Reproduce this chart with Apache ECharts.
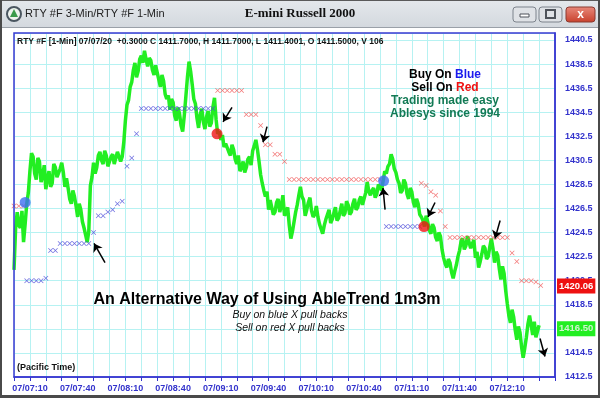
<!DOCTYPE html>
<html>
<head>
<meta charset="utf-8">
<script src="https://cdn.jsdelivr.net/npm/echarts@6/dist/echarts.min.js"></script>
<style>
html,body{margin:0;padding:0;background:#fff}
#main{width:600px;height:398px}
</style>
</head>
<body>
<div id="main"></div>
<script>
// right axis ticks run 1412.5, 1414.5 ... so prices are drawn as offsets from this base
var BASE = 1412.5;

// 1-min close; time is minutes from 07:10
var priceStart = -10;
var priceStep = 1;
var prices = [
  1421.4, 1424.8, 1426.2, 1425.1, 1424.9, 1426.3, 1423.7, 1425.2, 1426.9, 1427.8,
  1429.6, 1431.1, 1430.8, 1429.4, 1428.9, 1430.7, 1430.4, 1428.7, 1429.2, 1430.1,
  1428.1, 1429.0, 1429.6, 1428.3, 1428.6, 1430.2, 1429.9, 1429.1, 1429.0, 1429.8,
  1430.3, 1429.5, 1428.3, 1429.0, 1428.2, 1427.3, 1426.9, 1428.0, 1427.5, 1426.7,
  1425.8, 1426.9, 1426.4, 1425.4, 1424.9, 1424.3, 1423.7, 1424.6, 1428.4, 1429.1,
  1430.3, 1429.4, 1429.9, 1430.9, 1431.2, 1430.5, 1430.2, 1431.3, 1430.9, 1430.0,
  1429.9, 1430.8, 1431.0, 1430.2, 1430.1, 1431.2, 1431.3, 1430.4, 1430.8, 1432.0,
  1433.8, 1435.1, 1435.5, 1436.6, 1437.0, 1438.0, 1438.6, 1437.4, 1437.9, 1438.9,
  1439.2, 1438.6, 1439.6, 1438.9, 1438.3, 1439.0, 1438.8, 1438.0, 1437.6, 1438.4,
  1438.5, 1437.2, 1436.6, 1437.6, 1437.1, 1436.0, 1435.6, 1435.9, 1434.7, 1435.6,
  1435.3, 1434.2, 1433.8, 1434.9, 1434.4, 1433.4, 1432.9, 1434.2, 1435.8, 1437.4,
  1438.7, 1437.9, 1436.8, 1435.6, 1435.2, 1434.0, 1433.2, 1434.3, 1434.8, 1433.7,
  1433.1, 1434.1, 1434.6, 1433.3, 1433.6, 1434.9, 1435.7, 1433.9, 1432.7, 1432.9,
  1432.2, 1432.6, 1431.6, 1431.9, 1432.0, 1431.2, 1430.9, 1431.8, 1431.4, 1430.6,
  1430.2, 1430.9, 1429.6, 1429.9, 1430.4, 1429.5, 1429.9, 1430.6, 1430.8, 1430.1,
  1431.3, 1431.7, 1432.2, 1431.4, 1430.4, 1429.3, 1428.6, 1428.0, 1427.5, 1427.9,
  1426.4, 1427.2, 1427.1, 1426.0, 1426.2, 1427.0, 1427.3, 1426.2, 1426.7, 1427.6,
  1425.9, 1426.2, 1426.6, 1425.1, 1424.0, 1424.6, 1425.4, 1426.2, 1426.8, 1427.6,
  1428.3, 1427.5, 1427.2, 1425.9, 1426.4, 1427.0, 1427.4, 1426.3, 1425.8, 1426.0,
  1426.7, 1425.8, 1425.2, 1424.8, 1424.4, 1425.1, 1425.6, 1426.0, 1426.4, 1425.3,
  1425.6, 1426.1, 1426.6, 1425.5, 1425.7, 1426.3, 1426.9, 1425.9, 1426.1, 1427.1,
  1426.8, 1426.0, 1426.2, 1426.9, 1427.3, 1426.4, 1426.6, 1427.2, 1427.5, 1426.8,
  1426.9, 1427.8, 1428.7, 1427.9, 1427.6, 1428.0, 1428.2, 1427.4, 1427.7, 1428.5,
  1428.3, 1428.0, 1428.8, 1429.6, 1429.4, 1430.0, 1430.2, 1431.0, 1430.6, 1429.8,
  1429.5, 1428.9, 1428.6, 1427.8, 1428.0, 1428.9, 1428.6, 1427.7, 1427.3, 1428.2,
  1427.9, 1427.0, 1426.6, 1427.3, 1426.9, 1426.0, 1425.8, 1425.5, 1425.0, 1425.9,
  1425.4, 1424.7, 1424.4, 1425.2, 1424.9, 1424.1, 1423.8, 1424.5, 1424.2, 1423.1,
  1422.4, 1421.9, 1421.6, 1422.3, 1422.0, 1421.2, 1420.7, 1421.3, 1421.8, 1422.5,
  1423.0, 1423.8, 1424.0, 1423.1, 1423.4, 1424.2, 1424.1, 1423.2, 1423.3, 1423.9,
  1422.4, 1422.9, 1421.6, 1422.1, 1422.7, 1423.4, 1423.2, 1422.3, 1422.5, 1423.3,
  1424.0, 1423.2, 1422.0, 1422.9, 1422.6, 1421.5, 1420.6, 1421.7, 1421.1, 1419.7,
  1418.6, 1417.6, 1417.0, 1418.1, 1417.5, 1416.4, 1415.6, 1416.7, 1416.2, 1415.0,
  1414.1, 1414.9, 1415.8, 1416.9, 1417.6, 1416.8, 1416.0, 1417.1, 1415.8, 1416.3,
  1416.8
];

// AbleTrend stops: [minute, price]
var blueX = [
  [-2, 1420.5], [1, 1420.5], [4, 1420.5], [7, 1420.5], [10, 1420.7],
  [13, 1423.0], [16, 1423.0],
  [19, 1423.6], [22, 1423.6], [25, 1423.6], [28, 1423.6], [31, 1423.6], [34, 1423.6], [37, 1423.6],
  [40, 1424.5],
  [43, 1425.9], [46, 1425.9], [49, 1426.2], [52, 1426.4], [55, 1426.9], [58, 1427.1],
  [61, 1430.0], [64, 1430.7], [67, 1432.7],
  [70, 1434.8], [73, 1434.8], [76, 1434.8], [79, 1434.8], [82, 1434.8], [85, 1434.8],
  [88, 1434.8], [91, 1434.8], [94, 1434.8], [97, 1434.8], [100, 1434.8], [103, 1434.8],
  [106, 1434.8], [109, 1434.8], [112, 1434.8], [115, 1434.8],
  [224, 1425.0], [227, 1425.0], [230, 1425.0], [233, 1425.0], [236, 1425.0],
  [239, 1425.0], [242, 1425.0], [245, 1425.0]
];
var redX = [
  [-10, 1426.7], [-7, 1426.7], [-4, 1426.7],
  [118, 1436.3], [121, 1436.3], [124, 1436.3], [127, 1436.3], [130, 1436.3], [133, 1436.3],
  [136, 1434.3], [139, 1434.3], [142, 1434.3], [145, 1433.4],
  [148, 1431.8], [151, 1431.8], [154, 1431.0], [157, 1431.0], [160, 1430.4],
  [163, 1428.9], [166, 1428.9], [169, 1428.9], [172, 1428.9], [175, 1428.9], [178, 1428.9],
  [181, 1428.9], [184, 1428.9], [187, 1428.9], [190, 1428.9], [193, 1428.9], [196, 1428.9],
  [199, 1428.9], [202, 1428.9], [205, 1428.9], [208, 1428.9], [211, 1428.9], [214, 1428.9],
  [217, 1428.9], [220, 1428.9],
  [246, 1428.6], [249, 1428.4], [252, 1427.9], [255, 1427.6], [258, 1426.3], [261, 1425.0],
  [264, 1424.1], [267, 1424.1], [270, 1424.1], [273, 1424.1], [276, 1424.1], [279, 1424.1],
  [282, 1424.1], [285, 1424.1], [288, 1424.1], [291, 1424.1], [294, 1424.1], [297, 1424.1],
  [300, 1424.1],
  [303, 1422.8], [306, 1422.1],
  [309, 1420.5], [312, 1420.5], [315, 1420.5], [318, 1420.4], [321, 1420.1]
];
// buy / sell signal dots
var buyDots = [[-3, 1427.0], [222.3, 1428.8]];
var sellDots = [[117.6, 1432.7], [247.7, 1425.0]];
// hand-drawn arrows: [fromMinute, fromPrice, toMinute, toPrice] (head at "to")
var arrows = [
  [47.2, 1422.0, 40.3, 1423.6],
  [127.0, 1434.9, 121.4, 1433.7],
  [149.0, 1433.3, 146.5, 1432.0],
  [223.2, 1426.4, 221.9, 1428.2],
  [254.6, 1427.0, 250.2, 1425.8],
  [295.5, 1425.5, 292.3, 1424.0],
  [320.6, 1415.7, 323.7, 1414.2]
];
// price tags on the right axis
var stopTag = 1420.06;
var lastTag = 1416.50;

var SANS = '"Liberation Sans", Arial, sans-serif';
var BLUE_AX = '#3333cc';
var xShape = 'path://M0,1L1,0L5,4L9,0L10,1L6,5L10,9L9,10L5,6L1,10L0,9L4,5Z';

function shift(list) {
  return list.map(function (d) { return [d[0], d[1] - BASE]; });
}
function pad(n) { return n < 10 ? '0' + n : '' + n; }
function tag(v, bg, fg) {
  return {
    yAxis: v - BASE,
    label: { show: true, position: 'end', distance: 2, backgroundColor: bg, color: fg,
      fontSize: 9.5, fontWeight: 'bold', fontFamily: SANS, padding: [3, 2, 2, 2],
      formatter: v.toFixed(2) }
  };
}

var priceData = prices.map(function (p, i) { return [priceStart + i * priceStep, p - BASE]; });

var chart = echarts.init(document.getElementById('main'));
chart.setOption({
  animation: false,
  backgroundColor: '#ffffff',
  grid: { left: 14, right: 45, top: 33, bottom: 21 },
  xAxis: {
    type: 'value', min: -10, max: 330, interval: 10,
    axisLine: { show: true, onZero: false, lineStyle: { color: BLUE_AX, width: 1.5 } },
    axisTick: { show: true, length: 4, lineStyle: { color: BLUE_AX } },
    axisLabel: {
      color: BLUE_AX, fontWeight: 'bold', fontSize: 9, fontFamily: SANS, margin: 7,
      formatter: function (v) {
        if (v < 0 || v > 300 || v % 30 !== 0) return '';
        var m = 7 * 60 + 10 + v;
        return '07/' + pad(Math.floor(m / 60)) + ':' + pad(m % 60);
      }
    },
    splitLine: { show: true, lineStyle: { color: '#b6f2f2', width: 1 } }
  },
  yAxis: {
    type: 'value', position: 'right', min: 0, max: 28.58, interval: 2,
    axisLine: { show: true, onZero: false, lineStyle: { color: BLUE_AX, width: 1.5 } },
    axisTick: { show: false },
    axisLabel: {
      color: BLUE_AX, fontWeight: 'bold', fontSize: 9, fontFamily: SANS, margin: 10,
      showMaxLabel: false,
      formatter: function (v) { return (v + BASE).toFixed(1); }
    },
    splitLine: { show: true, lineStyle: { color: '#b6f2f2', width: 1 } }
  },
  series: [
    {
      type: 'line', data: priceData, showSymbol: false, z: 3,
      lineStyle: { color: '#22ee22', width: 3.5 },
      markLine: {
        silent: true, symbol: 'none',
        lineStyle: { color: 'rgba(0,0,0,0)', width: 0 },
        data: [tag(stopTag, '#ee1111', '#ffffff'), tag(lastTag, '#22ee22', '#d0f4d0')]
      }
    },
    {
      type: 'scatter', data: shift(blueX), symbol: xShape, symbolSize: 5, z: 4,
      itemStyle: { color: '#4848d8' }
    },
    {
      type: 'scatter', data: shift(redX), symbol: xShape, symbolSize: 5, z: 4,
      itemStyle: { color: '#f05656' }
    },
    {
      type: 'scatter', data: shift(buyDots), symbolSize: 11, z: 5,
      itemStyle: { color: '#3d6ff2' }
    },
    {
      type: 'scatter', data: shift(sellDots), symbolSize: 11, z: 5,
      itemStyle: { color: '#f01515' }
    },
    {
      type: 'lines', coordinateSystem: 'cartesian2d', z: 6,
      symbol: ['none', 'arrow'], symbolSize: 8,
      lineStyle: { color: '#000000', width: 1.5, opacity: 1 },
      data: arrows.map(function (a) {
        return { coords: [[a[0], a[1] - BASE], [a[2], a[3] - BASE]] };
      })
    }
  ],
  graphic: [
    // window frame
    { type: 'rect', shape: { x: 0, y: 0, width: 600, height: 28 },
      style: { fill: new echarts.graphic.LinearGradient(0, 0, 0, 1, [
        { offset: 0, color: '#e4e8ec' }, { offset: 1, color: '#d3d8de' }]) } },
    { type: 'rect', shape: { x: 0, y: 0, width: 600, height: 1 }, style: { fill: '#5a5a5a' } },
    { type: 'rect', shape: { x: 0, y: 27, width: 600, height: 1 }, style: { fill: '#9aa0a8' } },
    { type: 'rect', shape: { x: 0, y: 0, width: 2, height: 398 }, style: { fill: '#4a4a4a' } },
    { type: 'rect', shape: { x: 598, y: 0, width: 2, height: 398 }, style: { fill: '#4a4a4a' } },
    { type: 'rect', shape: { x: 0, y: 395, width: 600, height: 3 }, style: { fill: '#4a4a4a' } },
    // icon
    { type: 'circle', shape: { cx: 14, cy: 14, r: 7 },
      style: { fill: '#eef3ee', stroke: '#4a5660', lineWidth: 2 } },
    { type: 'polygon', shape: { points: [[14, 9], [18, 17], [10, 17]] }, style: { fill: '#3a9a4a' } },
    { type: 'text', x: 25, y: 14,
      style: { text: 'RTY #F 3-Min/RTY #F 1-Min', font: '11px ' + SANS, fill: '#222',
        textVerticalAlign: 'middle', verticalAlign: 'middle' } },
    { type: 'text', x: 300, y: 14,
      style: { text: 'E-mini Russell 2000', font: 'bold 13px "Liberation Serif", "Times New Roman", serif',
        fill: '#111', textAlign: 'center', align: 'center', textVerticalAlign: 'middle', verticalAlign: 'middle' } },
    // window buttons
    { type: 'rect', shape: { x: 513, y: 7, width: 23, height: 15, r: 3 },
      style: { fill: '#dfe2e6', stroke: '#7d838c', lineWidth: 1 } },
    { type: 'rect', shape: { x: 520, y: 14, width: 9, height: 3 },
      style: { fill: '#ffffff', stroke: '#4e535a', lineWidth: 1 } },
    { type: 'rect', shape: { x: 539, y: 7, width: 23, height: 15, r: 3 },
      style: { fill: '#dfe2e6', stroke: '#7d838c', lineWidth: 1 } },
    { type: 'rect', shape: { x: 546, y: 10, width: 9, height: 8 },
      style: { fill: 'none', stroke: '#4e535a', lineWidth: 2 } },
    { type: 'rect', shape: { x: 566, y: 7, width: 29, height: 15, r: 3 },
      style: { fill: new echarts.graphic.LinearGradient(0, 0, 0, 1, [
        { offset: 0, color: '#e88a7c' }, { offset: 1, color: '#c8402c' }]), stroke: '#8a3a30', lineWidth: 1 } },
    { type: 'text', x: 580.5, y: 14.5,
      style: { text: 'x', font: 'bold 12px ' + SANS, fill: '#ffffff', textAlign: 'center', align: 'center',
        textVerticalAlign: 'middle', verticalAlign: 'middle' } },
    // plot frame
    { type: 'rect', z: 50, shape: { x: 14, y: 33, width: 541, height: 344 },
      style: { fill: 'none', stroke: '#3a3ad2', lineWidth: 1.5 } },
    // header line
    { type: 'text', x: 17, y: 42, z: 51,
      style: { text: 'RTY #F [1-Min] 07/07/20  +0.3000 C 1411.7000, H 1411.7000, L 1411.4001, O 1411.5000, V 106',
        font: 'bold 8.5px ' + SANS, fill: '#111', textVerticalAlign: 'middle', verticalAlign: 'middle' } },
    { type: 'text', x: 17, y: 368, z: 51,
      style: { text: '(Pacific Time)', font: 'bold 9px ' + SANS, fill: '#111',
        textVerticalAlign: 'middle', verticalAlign: 'middle' } },
    // right-top legend
    { type: 'text', x: 445, y: 75, z: 51,
      style: { text: '{k|Buy On }{b|Blue}', textAlign: 'center', align: 'center',
        textVerticalAlign: 'middle', verticalAlign: 'middle',
        rich: { k: { fill: '#000', font: 'bold 12px ' + SANS }, b: { fill: '#1a1aee', font: 'bold 12px ' + SANS } } } },
    { type: 'text', x: 445, y: 88, z: 51,
      style: { text: '{k|Sell On }{r|Red}', textAlign: 'center', align: 'center',
        textVerticalAlign: 'middle', verticalAlign: 'middle',
        rich: { k: { fill: '#000', font: 'bold 12px ' + SANS }, r: { fill: '#ee1111', font: 'bold 12px ' + SANS } } } },
    { type: 'text', x: 445, y: 101, z: 51,
      style: { text: 'Trading made easy', font: 'bold 12px ' + SANS, fill: '#137a55',
        textAlign: 'center', align: 'center', textVerticalAlign: 'middle', verticalAlign: 'middle' } },
    { type: 'text', x: 445, y: 114, z: 51,
      style: { text: 'Ablesys since 1994', font: 'bold 12px ' + SANS, fill: '#137a55',
        textAlign: 'center', align: 'center', textVerticalAlign: 'middle', verticalAlign: 'middle' } },
    // center caption
    { type: 'text', x: 267, y: 300, z: 51,
      style: { text: 'An Alternative Way of Using AbleTrend 1m3m', font: 'bold 16px ' + SANS, fill: '#000',
        textAlign: 'center', align: 'center', textVerticalAlign: 'middle', verticalAlign: 'middle' } },
    { type: 'text', x: 290, y: 315, z: 51,
      style: { text: 'Buy on blue X pull backs', font: 'italic 10.5px ' + SANS, fill: '#111',
        textAlign: 'center', align: 'center', textVerticalAlign: 'middle', verticalAlign: 'middle' } },
    { type: 'text', x: 290, y: 328, z: 51,
      style: { text: 'Sell on red X pull backs', font: 'italic 10.5px ' + SANS, fill: '#111',
        textAlign: 'center', align: 'center', textVerticalAlign: 'middle', verticalAlign: 'middle' } }
  ]
});
</script>
</body>
</html>
